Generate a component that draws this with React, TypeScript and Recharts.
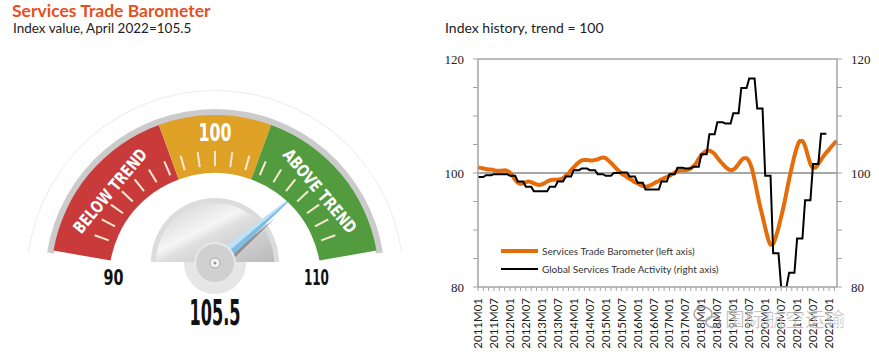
import React from 'react';
import {
  LineChart,
  Line,
  XAxis,
  YAxis,
  ReferenceLine,
  Legend,
  PieChart,
  Pie,
  Cell,
  Customized,
} from 'recharts';

// month categories 2011M01 .. 2022M04
const MONTHS: string[] = [];
for (let y = 2011; y <= 2022; y++) {
  for (let m = 1; m <= 12; m++) {
    if (y === 2022 && m > 4) break;
    MONTHS.push(`${y}M${String(m).padStart(2, '0')}`);
  }
}

// Services Trade Barometer, monthly (left axis)
const BAROMETER = [
  101.0, 100.9, 100.8, 100.7, 100.6, 100.6, 100.5, 100.4, 100.4, 100.4, 100.5, 100.4,
  100.1, 99.5, 98.8, 98.3, 98.1, 98.2, 98.4, 98.5, 98.4, 98.2, 98.0, 97.9,
  98.0, 98.2, 98.5, 98.7, 98.8, 98.8, 98.8, 98.9, 99.1, 99.5, 99.9, 100.5,
  101.0, 101.5, 101.9, 102.2, 102.3, 102.3, 102.2, 102.2, 102.3, 102.4, 102.6, 102.7,
  102.6, 102.2, 101.8, 101.3, 100.8, 100.3, 99.9, 99.6, 99.3, 99.0, 98.7, 98.4,
  98.2, 97.9, 97.7, 97.6, 97.7, 97.9, 98.1, 98.4, 98.6, 98.9, 99.1, 99.3,
  99.5, 99.8, 100.1, 100.3, 100.5, 100.5, 100.5, 100.6, 100.8, 101.2, 101.7, 102.5,
  103.2, 103.6, 103.9, 103.9, 103.7, 103.3, 102.7, 102.1, 101.6, 101.1, 100.7, 100.5,
  100.6, 101.0, 101.6, 102.2, 102.6, 102.6, 102.0, 100.8, 98.8, 96.5, 94.3, 92.4,
  90.4, 88.6, 87.4, 87.6, 88.8, 90.4, 92.3, 94.3, 96.6, 98.9, 101.0, 103.0,
  104.6, 105.6, 105.6, 104.7, 103.1, 101.6, 100.9, 101.0, 101.6, 102.3, 103.0, 103.6,
  104.1, 104.7, 105.2, 105.6,
];

// Global Services Trade Activity, quarterly 2011Q1 .. 2021Q4 (right axis)
const ACTIVITY_Q = [
  99.3, 99.6, 99.8, 99.8,
  99.5, 98.5, 97.6, 96.8,
  96.8, 97.6, 98.5, 99.4,
  100.5, 100.8, 100.5, 99.8,
  99.5, 100.0, 100.1, 99.4,
  98.3, 97.1, 97.1, 98.5,
  99.8, 100.9, 100.8, 101.1,
  103.3, 106.8, 108.9, 108.7,
  110.5, 114.9, 116.6, 111.3,
  99.5, 85.9, 80.0, 82.5,
  88.5, 95.2, 101.6, 106.9,
];

const SERIES_NAMES = [
  'Services Trade Barometer (left axis)',
  'Global Services Trade Activity (right axis)',
];
const SERIES_COLORS = ['#e46c0a', '#000000'];

const Y_TICKS = [80, 85, 90, 95, 100, 105, 110, 115, 120];
const Y_LABELS = [80, 100, 120];

// gauge
const GAUGE_MIN = 90;
const GAUGE_MAX = 110;
const GAUGE_VALUE = 105.5;
const BAND_NAMES = ['BELOW TREND', '100', 'ABOVE TREND'];
const BAND_LIMITS = [90, 97.5, 102.5, 110];
const BAND_COLORS = ['#c93b3b', '#e0a127', '#529c3f'];
const GAUGE_TICKS = Array.from({ length: 19 }, () => ({ v: 1 }));

const FONT = 'Lato, "Open Sans", sans-serif';
const NARROW = '"DejaVu Sans Condensed", "DejaVu Sans", sans-serif';
const AXIS = '#a3a3a3';

const data = MONTHS.map((month, i) => ({
  month,
  sbt: BAROMETER[i],
  gsta: i < ACTIVITY_Q.length * 3 ? ACTIVITY_Q[Math.floor(i / 3)] : null,
}));

const bandData = BAND_NAMES.map((name, i) => ({
  name,
  span: BAND_LIMITS[i + 1] - BAND_LIMITS[i],
}));

// gauge geometry
const CX = 215;
const CY = 279;
const R_IN = 106;
const R_OUT = 164;
const START = 170;
const END = 10;
const HUB = { x: 215, y: 263 };
const TICK_STEP = 140 / 18;

const angleOf = (v: number) =>
  START - ((v - GAUGE_MIN) / (GAUGE_MAX - GAUGE_MIN)) * (START - END);

const polar = (r: number, deg: number, cx = CX, cy = CY) => {
  const a = (deg * Math.PI) / 180;
  return { x: cx + r * Math.cos(a), y: cy - r * Math.sin(a) };
};

const renderBandLabel = (props: any) => {
  const i = props.index;
  const mid = angleOf((BAND_LIMITS[i] + BAND_LIMITS[i + 1]) / 2);
  const big = i === 1;
  const p = polar(big ? 147 : 137, mid);
  return (
    <text
      key={`bl-${i}`}
      x={p.x}
      y={p.y}
      transform={`rotate(${90 - mid} ${p.x} ${p.y})`}
      textAnchor="middle"
      dominantBaseline="central"
      fill="#fff"
      fontFamily={NARROW}
      fontStretch="condensed"
      fontWeight={700}
      fontSize={big ? 25 : 17}
      textLength={big ? 33 : 104}
      lengthAdjust="spacingAndGlyphs"
    >
      {BAND_NAMES[i]}
    </text>
  );
};

const renderTickMark = (props: any) => {
  const a = props.midAngle;
  const p1 = polar(R_IN + 7, a);
  const p2 = polar(R_IN + 22, a);
  return (
    <line
      key={`tm-${props.index}`}
      x1={p1.x}
      y1={p1.y}
      x2={p2.x}
      y2={p2.y}
      stroke="#f8e9cf"
      strokeWidth={2}
    />
  );
};

const GaugeOverlay = () => {
  const tip = polar(126, angleOf(GAUGE_VALUE));
  const dx = tip.x - HUB.x;
  const dy = tip.y - HUB.y;
  const len = Math.hypot(dx, dy);
  const ux = dx / len;
  const uy = dy / len;
  const px = -uy;
  const py = ux;
  const w = 7;
  const left = { x: HUB.x - px * w, y: HUB.y - py * w };
  const right = { x: HUB.x + px * w, y: HUB.y + py * w };
  const mid = { x: HUB.x + ux * 75 + px * 2, y: HUB.y + uy * 75 + py * 2 };

  const semi = (r: number, cy: number) =>
    `M ${CX - r} ${cy} A ${r} ${r} 0 0 1 ${CX + r} ${cy} Z`;

  const lbl90 = polar(103, START);
  const lbl110 = polar(103, END);
  const numStyle = {
    fontFamily: NARROW,
    fontStretch: 'condensed',
    fontWeight: 700,
    fill: '#111',
  } as const;

  return (
    <g>
      <defs>
        <linearGradient id="dialGrad" x1="0" y1="0" x2="1" y2="1">
          <stop offset="0" stopColor="#cdcdcd" />
          <stop offset="0.42" stopColor="#f5f5f5" />
          <stop offset="0.52" stopColor="#dedede" />
          <stop offset="1" stopColor="#b9b9b9" />
        </linearGradient>
      </defs>
      <circle cx={HUB.x} cy={HUB.y} r={31} fill="#e6e6e6" />
      <path d={semi(64, 262)} fill="#dcdcdc" />
      <path d={semi(59, 262)} fill="url(#dialGrad)" />
      <polygon
        points={`${right.x + 2},${right.y + 2} ${mid.x + 2},${mid.y + 2} ${right.x - 2},${right.y - 2}`}
        fill="#8d8d8d"
      />
      <polygon points={`${HUB.x},${HUB.y} ${left.x},${left.y} ${tip.x},${tip.y}`} fill="#bfe2f6" />
      <polygon points={`${HUB.x},${HUB.y} ${right.x},${right.y} ${tip.x},${tip.y}`} fill="#7dbde4" />
      <circle cx={HUB.x} cy={HUB.y} r={20} fill="#d0d0d0" stroke="#e8e8e8" strokeWidth={2} />
      <circle cx={HUB.x} cy={HUB.y} r={5} fill="#f4f4f4" stroke="#a9a9a9" strokeWidth={1} />
      <circle cx={HUB.x} cy={HUB.y} r={1.5} fill="#999" />
      <text x={lbl90.x} y={285} textAnchor="middle" fontSize={21} textLength={20} lengthAdjust="spacingAndGlyphs" {...numStyle}>
        {GAUGE_MIN}
      </text>
      <text x={lbl110.x} y={285} textAnchor="middle" fontSize={21} textLength={25} lengthAdjust="spacingAndGlyphs" {...numStyle}>
        {GAUGE_MAX}
      </text>
      <text x={CX} y={325} textAnchor="middle" fontSize={35} textLength={51} lengthAdjust="spacingAndGlyphs" {...numStyle}>
        {GAUGE_VALUE}
      </text>
    </g>
  );
};

const renderXTick = (props: any) => {
  const { x, y, payload } = props;
  const v = String(payload.value);
  if (!v.endsWith('M01') && !v.endsWith('M07')) return <g />;
  return (
    <g transform={`translate(${x},${y})`}>
      <text
        x={0}
        y={0}
        dy="0.35em"
        textAnchor="end"
        transform="rotate(-90)"
        fontFamily={FONT}
        fontSize={11.5}
        fill="#222"
      >
        {v}
      </text>
    </g>
  );
};

const makeYTick = (anchor: 'start' | 'end') => (props: any) => {
  const { x, y, payload } = props;
  if (!Y_LABELS.includes(payload.value)) return <g />;
  return (
    <text
      x={x}
      y={y}
      dy="0.35em"
      textAnchor={anchor}
      fontFamily='"Liberation Serif", serif'
      fontSize={13}
      fill="#222"
    >
      {payload.value}
    </text>
  );
};

const LegendBox = () => (
  <div style={{ fontFamily: FONT, fontSize: 10, color: '#333' }}>
    {SERIES_NAMES.map((name, i) => (
      <div key={name} style={{ display: 'flex', alignItems: 'center', height: 18 }}>
        <svg width={38} height={6}>
          <line x1={0} x2={37} y1={3} y2={3} stroke={SERIES_COLORS[i]} strokeWidth={i === 0 ? 4 : 2} />
        </svg>
        <span style={{ marginLeft: 3, whiteSpace: 'nowrap' }}>{name}</span>
      </div>
    ))}
  </div>
);

export default function App() {
  return (
    <div
      style={{
        position: 'absolute',
        left: 0,
        top: 0,
        width: 879,
        height: 358,
        background: '#fff',
        overflow: 'hidden',
      }}
    >
      <div style={{ position: 'absolute', left: 0, top: 0 }}>
        <PieChart width={430} height={358} margin={{ top: 0, right: 0, bottom: 0, left: 0 }}>
          <Pie
            data={[{ v: 1 }]}
            dataKey="v"
            cx={CX}
            cy={CY}
            startAngle={172}
            endAngle={8}
            innerRadius={188}
            outerRadius={189}
            fill="#ededed"
            stroke="none"
            isAnimationActive={false}
          />
          <Pie
            data={[{ v: 1 }]}
            dataKey="v"
            cx={CX}
            cy={CY}
            startAngle={171}
            endAngle={9}
            innerRadius={R_OUT - 1}
            outerRadius={R_OUT + 6}
            fill="#cbcbcb"
            stroke="none"
            isAnimationActive={false}
          />
          <Pie
            data={bandData}
            dataKey="span"
            nameKey="name"
            cx={CX}
            cy={CY}
            startAngle={START}
            endAngle={END}
            innerRadius={R_IN}
            outerRadius={R_OUT}
            stroke="none"
            label={renderBandLabel}
            labelLine={false}
            isAnimationActive={false}
          >
            {bandData.map((b, i) => (
              <Cell key={b.name} fill={BAND_COLORS[i]} />
            ))}
          </Pie>
          <Pie
            data={GAUGE_TICKS}
            dataKey="v"
            cx={CX}
            cy={CY}
            startAngle={160 + TICK_STEP / 2}
            endAngle={20 - TICK_STEP / 2}
            innerRadius={R_IN}
            outerRadius={R_IN + 1}
            fill="none"
            stroke="none"
            label={renderTickMark}
            labelLine={false}
            isAnimationActive={false}
          />
          <Customized component={GaugeOverlay} />
        </PieChart>
      </div>

      <div style={{ position: 'absolute', left: 430, top: 40 }}>
        <LineChart width={449} height={318} data={data} margin={{ top: 19, right: 0, bottom: 0, left: 0 }}>
          <XAxis
            dataKey="month"
            interval={1}
            height={71}
            tickSize={4}
            tickMargin={7}
            axisLine={{ stroke: AXIS, strokeWidth: 1.5 }}
            tickLine={{ stroke: AXIS }}
            tick={renderXTick}
          />
          <YAxis
            yAxisId="left"
            orientation="left"
            width={48}
            domain={[80, 120]}
            ticks={Y_TICKS}
            interval={0}
            tickSize={5}
            tickMargin={9}
            allowDataOverflow
            axisLine={{ stroke: AXIS, strokeWidth: 1.5 }}
            tickLine={{ stroke: AXIS }}
            tick={makeYTick('end')}
          />
          <YAxis
            yAxisId="right"
            orientation="right"
            width={42}
            domain={[80, 120]}
            ticks={Y_TICKS}
            interval={0}
            tickSize={5}
            tickMargin={9}
            allowDataOverflow
            axisLine={{ stroke: AXIS, strokeWidth: 1.5 }}
            tickLine={{ stroke: AXIS }}
            tick={makeYTick('start')}
          />
          <ReferenceLine yAxisId="left" y={120} stroke={AXIS} strokeWidth={1.5} />
          <ReferenceLine yAxisId="left" y={100} stroke="#8a8a8a" strokeWidth={1.5} />
          <Line
            yAxisId="left"
            dataKey="sbt"
            name={SERIES_NAMES[0]}
            type="monotone"
            stroke={SERIES_COLORS[0]}
            strokeWidth={4}
            dot={false}
            isAnimationActive={false}
          />
          <Line
            yAxisId="right"
            dataKey="gsta"
            name={SERIES_NAMES[1]}
            type="linear"
            stroke={SERIES_COLORS[1]}
            strokeWidth={2}
            dot={false}
            isAnimationActive={false}
          />
          <Legend
            layout="vertical"
            align="center"
            verticalAlign="middle"
            wrapperStyle={{ left: 71, top: 202, width: 'auto' }}
            content={() => <LegendBox />}
          />
        </LineChart>
      </div>

      <svg
        width={879}
        height={358}
        style={{ position: 'absolute', left: 0, top: 0, pointerEvents: 'none' }}
      >
        <text x={12} y={16.5} fontFamily={FONT} fontWeight={700} fontSize={17.5} fill="#e5501e">
          Services Trade Barometer
        </text>
        <text x={13} y={33} fontFamily={FONT} fontSize={13.5} fill="#222">
          Index value, April 2022=105.5
        </text>
        <text x={445} y={32.5} fontFamily={FONT} fontSize={14} fill="#222">
          Index history, trend = 100
        </text>
        <g opacity={0.75}>
          <ellipse cx={703} cy={314} rx={9} ry={7} fill="none" stroke="#8a8a8a" strokeWidth={1.5} />
          <ellipse cx={713} cy={322} rx={7} ry={5.5} fill="none" stroke="#8a8a8a" strokeWidth={1.5} />
          <text
            x={725}
            y={327}
            fontFamily='"Noto Sans CJK SC", sans-serif'
            fontSize={20}
            fill="#8a8a8a"
            stroke="#ffffff"
            strokeWidth={0.6}
          >
            国际航空运输
          </text>
        </g>
      </svg>
    </div>
  );
}
